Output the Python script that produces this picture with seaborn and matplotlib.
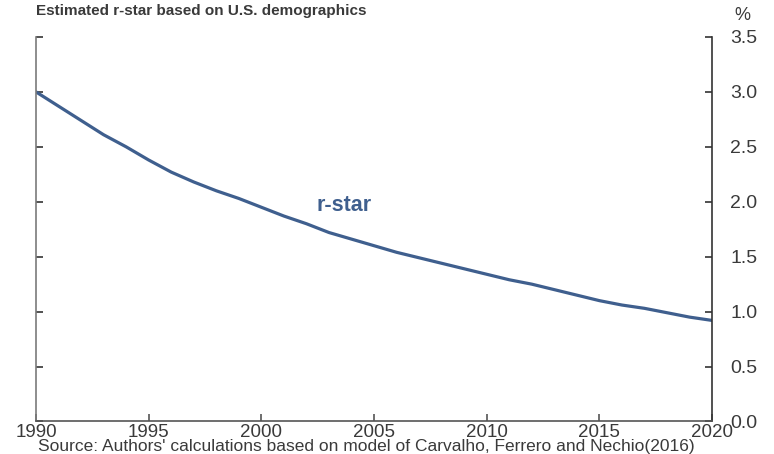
import pandas as pd
import numpy as np
import matplotlib
matplotlib.use("Agg")
import matplotlib.pyplot as plt
import seaborn as sns

# Data (annual values, %)
years = list(range(1990, 2021))
rstar = [3.00, 2.87, 2.74, 2.61, 2.50, 2.38, 2.27, 2.18, 2.10, 2.03,
         1.95, 1.87, 1.80, 1.72, 1.66, 1.60, 1.54, 1.49, 1.44, 1.39,
         1.34, 1.29, 1.25, 1.20, 1.15, 1.10, 1.06, 1.03, 0.99, 0.95,
         0.92]
x_ticks = [1990, 1995, 2000, 2005, 2010, 2015, 2020]
y_ticks = [0.0, 0.5, 1.0, 1.5, 2.0, 2.5, 3.0, 3.5]

df = pd.DataFrame({"year": years, "rstar": rstar})

sns.set_style("white")
plt.rcParams["font.family"] = ["Liberation Sans", "DejaVu Sans"]

line_color = "#3f5f8e"
text_color = "#3a3a3a"

fig = plt.figure(figsize=(7.74, 4.54), dpi=100)
ax = fig.add_axes([0.0465, 0.0716, 0.8735, 0.847])

sns.lineplot(data=df, x="year", y="rstar", color=line_color, linewidth=2.3, ax=ax)

ax.set_xlim(1990, 2020)
ax.set_ylim(0, 3.5)
ax.set_xticks(x_ticks)
ax.set_xticklabels([str(t) for t in x_ticks])
ax.set_yticks(y_ticks)
ax.set_yticklabels([f"{t:.1f}" for t in y_ticks])
ax.set_xlabel("")
ax.set_ylabel("")

# spines: left, right, bottom only
ax.spines["top"].set_visible(False)
ax.spines["left"].set_color("#7a7a7a")
ax.spines["right"].set_color("#333333")
ax.spines["bottom"].set_color("#555555")
for s in ["left", "right", "bottom"]:
    ax.spines[s].set_visible(True)
    ax.spines[s].set_linewidth(1.2)

ax.tick_params(axis="y", which="both", direction="in", length=5, width=1.2,
               left=True, right=True, labelleft=False, labelright=True,
               labelsize=14, pad=13, colors="#333333")
ax.tick_params(axis="x", direction="in", length=5, width=1.2, bottom=True,
               labelsize=13.5, pad=2, colors="#555555")
for lbl in ax.get_yticklabels() + ax.get_xticklabels():
    lbl.set_color(text_color)

ax.text(2003.67, 1.97, "r-star", color=line_color, fontsize=15.5,
        fontweight="bold", ha="center", va="center")

fig.text(36 / 774, 1 - 10.5 / 454, "Estimated r-star based on U.S. demographics",
         fontsize=11, fontweight="bold", color=text_color, ha="left", va="center")
fig.text(742 / 774, 1 - 16 / 454, "%", fontsize=13, color=text_color,
         ha="center", va="center")
fig.text(38 / 774, 0.5 / 454,
         "Source: Authors' calculations based on model of Carvalho, Ferrero and Nechio(2016)",
         fontsize=12.5, color=text_color, ha="left", va="bottom")

plt.savefig("out.png", dpi=100)
